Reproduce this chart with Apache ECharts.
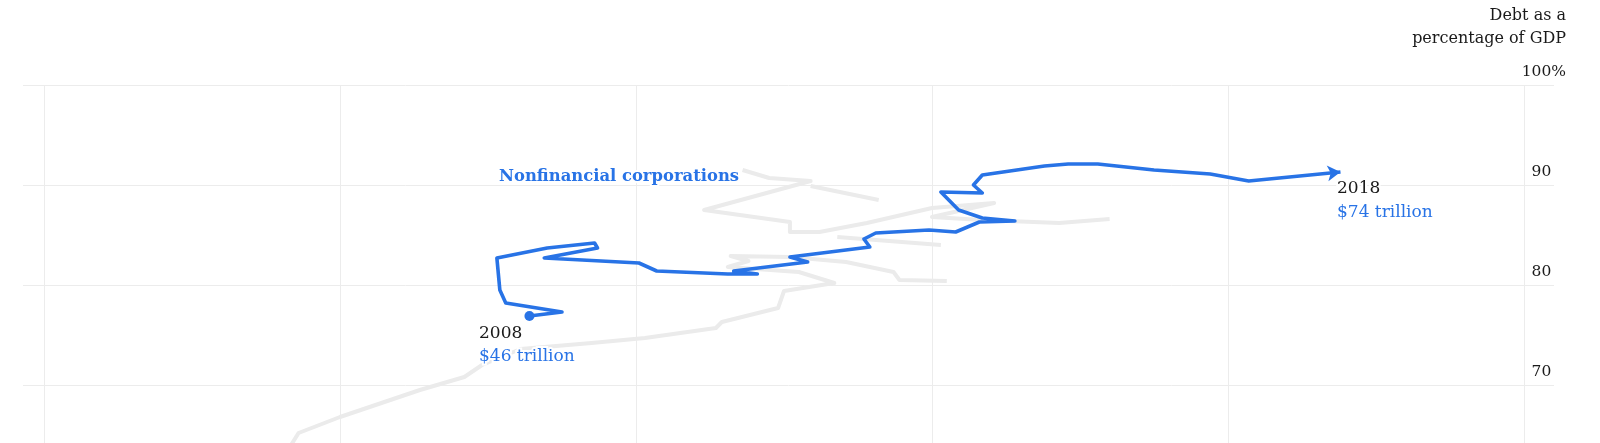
<!DOCTYPE html>
<html><head><meta charset="utf-8">
<script src="https://cdn.jsdelivr.net/npm/echarts@6/dist/echarts.min.js"></script>
<style>html,body{margin:0;padding:0;background:#fff}#c{width:1600px;height:443px}</style>
</head><body><div id="c"></div>
<script>
// Debt in trillions of dollars (x) vs debt as a percentage of GDP (y)
const corporations = [[46.4,76.9],[47.5,77.3],[45.6,78.2],[45.4,79.5],[45.3,82.7],[47.0,83.7],[48.6,84.2],[48.7,83.7],[46.9,82.7],[50.1,82.2],[50.7,81.4],[53.1,81.1],[54.1,81.1],[53.3,81.4],[55.8,82.3],[55.2,82.8],[57.9,83.8],[57.7,84.6],[58.1,85.2],[59.9,85.5],[60.8,85.3],[61.6,86.3],[62.8,86.4],[61.7,86.7],[60.9,87.5],[60.3,89.3],[61.7,89.2],[61.4,90.0],[61.7,91.0],[63.8,91.9],[64.6,92.1],[65.6,92.1],[67.5,91.5],[69.4,91.1],[70.7,90.4],[73.8,91.3]];
const otherA = [[38.2,63.3],[38.6,65.2],[40.0,66.8],[42.7,69.5],[44.2,70.8],[44.8,72.0],[46.1,73.6],[48.5,74.2],[50.3,74.7],[52.7,75.7],[52.9,76.3],[54.8,77.7],[55.0,79.4],[56.7,80.2],[55.5,81.3],[53.1,81.8],[53.8,82.4],[53.2,82.9],[55.2,82.8],[57.1,82.3],[58.7,81.3],[58.9,80.5],[60.5,80.4]];
const otherB = [[53.6,91.5],[54.5,90.7],[55.9,90.4],[52.3,87.5],[55.2,86.3],[55.2,85.3],[56.2,85.3],[57.8,86.2],[60.0,87.7],[62.1,88.2],[60.0,86.8],[61.7,86.5],[64.3,86.2],[66.0,86.6]];
const otherC = [[55.9,89.9],[58.2,88.5]];
const otherD = [[56.8,84.8],[60.3,84.0]];
const seriesName = 'Nonfinancial corporations';
const startLabel = ['2008', '$46 trillion'];
const endLabel = ['2018', '$74 trillion'];
const yAxisTitle = ['Debt as a', 'percentage of GDP'];
const yTickValues = [60, 70, 80, 90, 100];

const FONT = '"DejaVu Serif", "Liberation Serif", serif';
const BLUE = '#2873e6';
const TEXT = '#1a1a1a';
const GRID = '#ececec';
const GRAY = '#ebebeb';

const chart = echarts.init(document.getElementById('c'));

const blueData = corporations.map((p, i) => {
  if (i === 0) return {value: p, symbol: 'circle', symbolSize: 10};
  if (i === corporations.length - 1) return {value: p, symbol: 'arrow', symbolSize: [12, 13], symbolRotate: -84};
  return {value: p};
});

function gray(data) {
  return {type: 'line', xAxisIndex: 1, yAxisIndex: 1, data: data, symbol: 'none', silent: true, z: 1,
    lineStyle: {color: GRAY, width: 4, join: 'round'}};
}

const labelStyle = {fontFamily: FONT, fontSize: 15.5, color: TEXT};

function txt(text, x, y, opts) {
  return {type: 'text', x: x, y: y, z: 100,
    style: Object.assign({text: text, fontFamily: FONT, fontSize: 17, fill: TEXT, align: 'left', verticalAlign: 'middle',
      stroke: '#fff', lineWidth: 4}, opts || {})};
}

chart.setOption({
  animation: false,
  grid: [
    {left: 23, right: 46, top: 85, bottom: -42, outerBoundsMode: 'none', containLabel: false},
    {left: 44, right: 76, top: 85, bottom: -42, outerBoundsMode: 'none', containLabel: false}
  ],
  xAxis: [
    {type: 'value', gridIndex: 0, min: 0, max: 1, show: false},
    {type: 'value', gridIndex: 1, min: 30, max: 80, interval: 10,
      axisLine: {show: false}, axisTick: {show: false}, axisLabel: {show: false},
      splitLine: {show: true, lineStyle: {color: GRID, width: 1}}}
  ],
  yAxis: [
    {type: 'value', gridIndex: 0, position: 'right', min: yTickValues[0], max: yTickValues[yTickValues.length - 1], interval: 10,
      axisLine: {show: false}, axisTick: {show: false},
      splitLine: {show: true, lineStyle: {color: GRID, width: 1}},
      axisLabel: {
        show: true, align: 'right', margin: 12, verticalAlign: 'middle', padding: [0, 0, 27, 0],
        formatter: v => v === 100 ? '{n|100}{p|%}' : (v === 60 ? '' : '{n|' + v + '}{h|%}'),
        rich: {
          n: labelStyle,
          p: labelStyle,
          h: {fontFamily: FONT, fontSize: 15.5, color: 'rgba(0,0,0,0)'}
        }
      }},
    {type: 'value', gridIndex: 1, min: 60, max: 100, show: false, splitLine: {show: false}}
  ],
  series: [
    gray(otherA), gray(otherB), gray(otherC), gray(otherD),
    {type: 'line', name: seriesName, xAxisIndex: 1, yAxisIndex: 1, data: blueData, z: 5,
      symbol: 'none', showSymbol: true, itemStyle: {color: BLUE},
      lineStyle: {color: BLUE, width: 3.6, join: 'round'}}
  ],
  graphic: [
    txt(seriesName, 499, 177, {fontSize: 16.4, fontWeight: 'bold', fill: BLUE}),
    txt(startLabel[0], 479, 334),
    txt(startLabel[1], 479, 357, {fill: BLUE}),
    txt(endLabel[0], 1337, 189),
    txt(endLabel[1], 1337, 213, {fill: BLUE}),
    txt(yAxisTitle[0], 1566, 16, {fontSize: 16, align: 'right', lineWidth: 0}),
    txt(yAxisTitle[1], 1566, 38.5, {fontSize: 16, align: 'right', lineWidth: 0})
  ]
});
</script></body></html>
